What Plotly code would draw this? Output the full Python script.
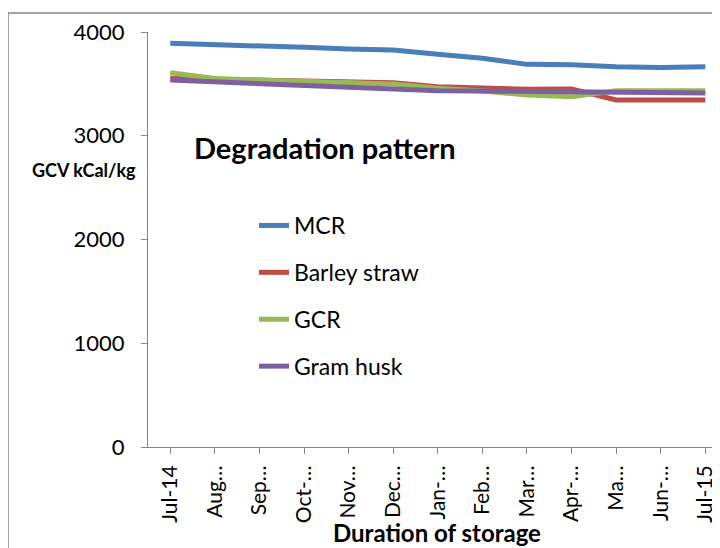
import plotly.graph_objects as go

months = ["Jul-14", "Aug…", "Sep…", "Oct-…", "Nov…", "Dec…", "Jan-…", "Feb…",
          "Mar…", "Apr-…", "Ma…", "Jun-…", "Jul-15"]
mcr = [3891, 3881, 3859, 3852, 3836, 3827, 3785, 3746, 3688, 3685, 3666, 3659, 3666]
barley = [3552, 3544, 3537, 3528, 3518, 3512, 3473, 3457, 3447, 3451, 3345, 3345, 3345]
gcr = [3608, 3552, 3537, 3521, 3512, 3499, 3457, 3431, 3393, 3377, 3434, 3434, 3434]
gram = [3537, 3518, 3499, 3480, 3463, 3441, 3434, 3431, 3428, 3418, 3418, 3415, 3412]

series = [("MCR", mcr, "#4A7EBB"), ("Barley straw", barley, "#BE4B48"),
          ("GCR", gcr, "#98B954"), ("Gram husk", gram, "#7D60A0")]

FONT = "Lato, Carlito, Calibri, sans-serif"
fig = go.Figure()
for name, vals, col in series:
    fig.add_trace(go.Scatter(x=list(range(len(months))), y=vals, name=name, mode="lines",
                             legendgroup=name,
                             line=dict(color=col, width=5)))

# page has an 8px body margin; screen coords = figure coords + 8
OFF = 8
W, H = 720, 548
L = 148 - OFF
T = 32 - OFF
R = 8
B = H - (447 - OFF)
pw, ph = W - L - R, H - T - B


def px(sx):
    return (sx - OFF - L) / pw


def py(sy):
    return (447 - sy) / ph


fig.update_layout(
    width=W, height=H,
    margin=dict(l=L, r=R, t=T, b=B),
    paper_bgcolor="white", plot_bgcolor="white",
    font=dict(family=FONT, color="black"),
    showlegend=True,
    legend=dict(x=px(254), y=py(204), xanchor="left", yanchor="top",
                font=dict(size=23, family=FONT), tracegroupgap=14,
                bgcolor="rgba(0,0,0,0)"),
    xaxis=dict(range=[-0.5, 12.33], tickmode="array", tickvals=list(range(len(months))),
               ticktext=months, tickangle=-90, tickson="boundaries", ticks="outside",
               ticklen=6, tickcolor="#868686", showline=True, linecolor="#868686",
               linewidth=1, showgrid=False, zeroline=False, ticklabelstandoff=3,
               tickfont=dict(size=21, family=FONT)),
    yaxis=dict(range=[0, 4000], tickvals=[0, 1000, 2000, 3000, 4000], ticks="outside",
               ticklen=6, tickcolor="#868686", showline=True, linecolor="#868686",
               linewidth=1, showgrid=False, zeroline=False, ticklabelstandoff=12,
               tickfont=dict(size=22, family=FONT)),
)

fig.add_annotation(text="<b>Degradation pattern</b>", xref="paper", yref="paper",
                   x=px(192), y=py(147), xanchor="left", yanchor="middle",
                   showarrow=False, font=dict(size=29, family=FONT))
fig.add_annotation(text="<b>GCV kCal/kg</b>", xref="paper", yref="paper",
                   x=px(30), y=py(170), xanchor="left", yanchor="middle",
                   showarrow=False, font=dict(size=18, family=FONT))
fig.add_annotation(text="<b>Duration of storage</b>", xref="paper", yref="paper",
                   x=px(437), y=py(532), xanchor="center", yanchor="middle",
                   showarrow=False, font=dict(size=24, family=FONT))
fig.add_shape(type="rect", xref="paper", yref="paper",
              x0=px(8), x1=px(760), y0=py(590), y1=py(13),
              line=dict(color="#868686", width=1.5), fillcolor="rgba(0,0,0,0)", layer="below")

fig.write_html("out.html")
